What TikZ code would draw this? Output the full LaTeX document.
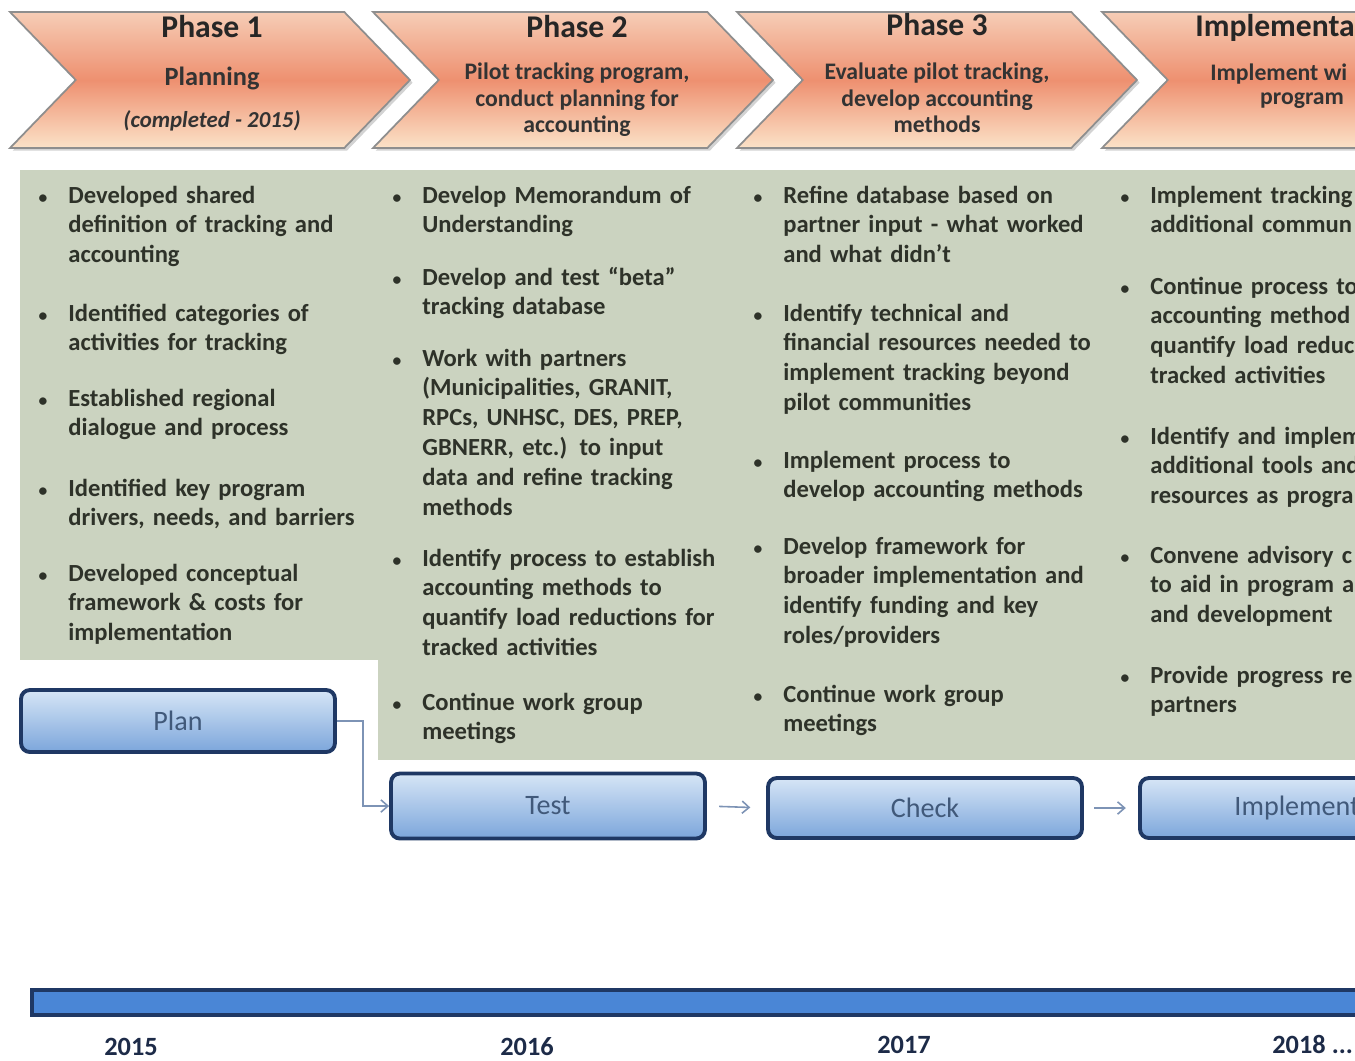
\documentclass[tikz,border=0pt]{standalone}
\usepackage{fontspec}
\setmainfont{Carlito}
\usetikzlibrary{shapes.symbols,shadows,arrows.meta}

\definecolor{panelgreen}{HTML}{CBD3C0}
\definecolor{chevtop}{HTML}{F6CDB6}
\definecolor{chevmid}{HTML}{EE9070}
\definecolor{chevbot}{HTML}{FBE2C8}
\definecolor{chevline}{HTML}{8E8E8E}
\definecolor{boxtop}{HTML}{D6E5F6}
\definecolor{boxbot}{HTML}{7CA6DB}
\definecolor{boxline}{HTML}{1F3864}
\definecolor{boxtext}{HTML}{41597A}
\definecolor{itemtext}{HTML}{2E3229}
\definecolor{barfill}{HTML}{4A86D6}
\definecolor{yeartext}{HTML}{1D2B48}
\definecolor{flowline}{HTML}{7D93B5}

\newcommand{\bul}{\llap{{\fontsize{10}{10}\selectfont\textbullet}\hspace{12pt}}}

\tikzset{
    chevron/.style={signal, signal from=west, signal to=east, signal pointer angle=92,
        minimum width=8cm, minimum height=2.72cm, inner sep=0pt,
        draw=chevline, line width=1pt,
        top color=chevtop, bottom color=chevbot, middle color=chevmid,
        drop shadow={opacity=0.35, shadow xshift=1.5pt, shadow yshift=-1.5pt}},
    phasetitle/.style={font=\fontsize{18}{20}\selectfont\bfseries, text=black!85, inner sep=0pt},
    phasesub/.style={font=\fontsize{13.5}{15}\selectfont\bfseries, text=black!80, align=center, inner sep=0pt},
    item/.style={anchor=base west, inner sep=0pt, text width=6.6cm, align=left,
        font=\fontsize{14}{17}\selectfont\bfseries, text=itemtext},
    stepbox/.style={draw=boxline, line width=2.2pt, rounded corners=5pt,
        top color=boxtop, bottom color=boxbot, minimum width=6.28cm, minimum height=1.24cm,
        font=\fontsize{16}{18}\selectfont, text=boxtext},
    flow/.style={draw=flowline, line width=0.9pt, -{Straight Barb[length=4pt,width=7pt]}},
    year/.style={font=\fontsize{15}{17}\selectfont\bfseries, text=yeartext, inner sep=0pt}
}

\begin{document}
\begin{tikzpicture}[x=0.02cm, y=-0.02cm]
    \useasboundingbox (0,0) rectangle (1355,1061);
    \clip (0,0) rectangle (1355,1061);

    % green panel behind the bullet lists
    \fill[panelgreen] (20,170) rectangle (378,660);
    \fill[panelgreen] (378,170) rectangle (1355,760);

    % phase chevrons
    \node[chevron] (p1) at (210,80) {};
    \node[chevron] (p2) at (573,80) {};
    \node[chevron] (p3) at (937,80) {};
    \node[chevron] (p4) at (1302,80) {};

    \node[phasetitle] (t1) at (212,27) {Phase 1};
    \node[phasetitle] (t2) at (577,27) {Phase 2};
    \node[phasetitle] (t3) at (937,25) {Phase 3};
    \node[phasetitle, anchor=west] (t4) at (1195,28) {Implementa};

    \node[phasesub] (s1) at (212,99) {{\fontsize{15}{17}\selectfont Planning}\\[9pt]
        {\fontsize{13}{15}\selectfont\itshape (completed - 2015)}};
    \node[phasesub] (s2) at (577,100) {Pilot tracking program,\\conduct planning for\\accounting};
    \node[phasesub] (s3) at (937,98) {Evaluate pilot tracking,\\develop accounting\\methods};
    \node[phasesub, anchor=west] (s4a) at (1210,74) {Implement wi};
    \node[phasesub] (s4b) at (1302,101) {program};

    % phase 1 items
    \node[item] (a1) at (68,203) {\bul Developed shared\\definition of tracking and\\accounting};
    \node[item] (a2) at (68,321) {\bul Identified categories of\\activities for tracking};
    \node[item] (a3) at (68,406) {\bul Established regional\\dialogue and process};
    \node[item] (a4) at (68,496) {\bul Identified key program\\drivers, needs, and barriers};
    \node[item] (a5) at (68,581) {\bul Developed conceptual\\framework \& costs for\\implementation};

    % phase 2 items
    \node[item] (b1) at (422,203) {\bul Develop Memorandum of\\Understanding};
    \node[item] (b2) at (422,285) {\bul Develop and test “beta”\\tracking database};
    \node[item] (b3) at (422,366) {\bul Work with partners\\(Municipalities, GRANIT,\\RPCs, UNHSC, DES, PREP,\\GBNERR, etc.) to input\\data and refine tracking\\methods};
    \node[item] (b4) at (422,566) {\bul Identify process to establish\\accounting methods to\\quantify load reductions for\\tracked activities};
    \node[item] (b5) at (422,710) {\bul Continue work group\\meetings};

    % phase 3 items
    \node[item] (c1) at (783,203) {\bul Refine database based on\\partner input - what worked\\and what didn’t};
    \node[item] (c2) at (783,321) {\bul Identify technical and\\financial resources needed to\\implement tracking beyond\\pilot communities};
    \node[item] (c3) at (783,468) {\bul Implement process to\\develop accounting methods};
    \node[item] (c4) at (783,554) {\bul Develop framework for\\broader implementation and\\identify funding and key\\roles/providers};
    \node[item] (c5) at (783,702) {\bul Continue work group\\meetings};

    % implementation items
    \node[item] (d1) at (1150,203) {\bul Implement tracking\\additional commun};
    \node[item] (d2) at (1150,294) {\bul Continue process to\\accounting method\\quantify load reduc\\tracked activities};
    \node[item] (d3) at (1150,444) {\bul Identify and implem\\additional tools and\\resources as progra};
    \node[item] (d4) at (1150,563) {\bul Convene advisory c\\to aid in program as\\and development};
    \node[item] (d5) at (1150,683) {\bul Provide progress re\\partners};

    % cycle boxes
    \node[stepbox] (plan) at (178,721) {Plan};
    \node[stepbox, minimum height=1.3cm] (test) at (548,806) {Test};
    \node[stepbox, minimum height=1.2cm] (check) at (925,808) {Check};
    \node[stepbox, minimum height=1.2cm] (impl) at (1297,808) {Implement};

    \draw[flow] (plan.east) -- ++(26,0) |- (test.west);
    \draw[flow, shorten <=7pt, shorten >=9pt] (test.east) -- (check.west);
    \draw[flow, shorten <=6pt, shorten >=7pt] (check.east) -- (impl.west);

    % timeline
    \draw[draw=boxline, line width=2pt, fill=barfill] (32,990) rectangle (1370,1015);
    \node[year] (y15) at (131,1047) {2015};
    \node[year] (y16) at (527,1047) {2016};
    \node[year] (y17) at (904,1045) {2017};
    \node[year, anchor=west] (y18) at (1272,1044) {2018 ...};
\end{tikzpicture}
\end{document}
